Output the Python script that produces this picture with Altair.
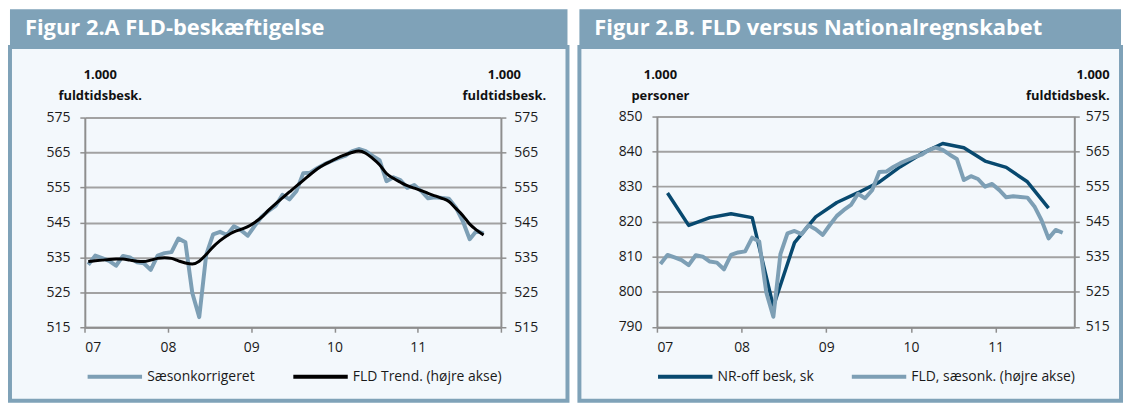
import json
import altair as alt
import pandas as pd

# ---------------- data ----------------
YEAR_LABELS = ["07", "08", "09", "10", "11"]
MONTHS = pd.period_range("2007-01", "2011-10", freq="M").astype(str).tolist()

FLD_SA = [
    532.9, 535.5, 534.8, 534.0, 532.6, 535.4, 535.0, 533.6, 533.3, 531.4, 535.5, 536.2,
    536.5, 540.4, 539.3, 524.8, 517.9, 535.7, 541.6, 542.3, 541.4, 543.9, 542.8, 541.2,
    544.0, 546.6, 548.3, 549.7, 552.9, 551.6, 553.9, 559.1, 559.2, 560.5, 561.6, 562.5,
    563.3, 564.0, 565.3, 566.0, 565.4, 564.0, 562.8, 556.8, 557.9, 557.1, 554.9, 555.7,
    554.0, 551.9, 552.2, 552.0, 551.8, 549.3, 545.4, 540.2, 542.6, 541.8,
]
FLD_TREND = [
    533.8, 534.0, 534.2, 534.4, 534.5, 534.5, 534.2, 533.9, 533.8, 534.2, 534.7, 534.9,
    534.7, 534.0, 533.4, 533.1, 533.9, 535.8, 538.0, 539.8, 541.2, 542.3, 543.0, 543.8,
    545.0, 546.5, 548.5, 550.3, 552.0, 553.7, 555.4, 557.0, 558.7, 560.3, 561.5, 562.5,
    563.5, 564.3, 565.0, 565.4, 564.8, 563.3, 561.5, 559.0, 557.6, 556.5, 555.5, 554.8,
    554.1, 553.3, 552.6, 551.9, 551.0, 549.0, 547.0, 544.5, 542.8, 541.4,
]
QUARTERS = [
    "2007K1", "2007K2", "2007K3", "2007K4", "2008K1", "2008K2", "2008K3", "2008K4",
    "2009K1", "2009K2", "2009K3", "2009K4", "2010K1", "2010K2", "2010K3", "2010K4",
    "2011K1", "2011K2", "2011K3",
]
NR_OFF = [
    828.1, 818.9, 821.1, 822.2, 821.1, 795.8, 814.0, 821.3, 825.4, 828.2,
    831.2, 835.6, 839.3, 842.2, 841.0, 837.2, 835.4, 831.3, 823.8,
]

TITLE_A = "Figur 2.A FLD-beskæftigelse"
TITLE_B = "Figur 2.B. FLD versus Nationalregnskabet"
SER_A = ["Sæsonkorrigeret", "FLD Trend. (højre akse)"]
SER_B = ["NR-off besk, sk", "FLD, sæsonk. (højre akse)"]
AX_FULD = ["1.000", "fuldtidsbesk."]
AX_PERS = ["1.000", "personer"]

# ---------------- styles ----------------
FONT = "Open Sans"
BAR = "#7fa2b8"
BG = "#f3f8fc"
LIGHT = "#7d9fb5"
DARK = "#08496f"
BLACK = "#000000"
GRID = "#a2a2a2"
AXIS = "#8e8e8e"
TXT = "#1a1a1a"

PW_A, PW_B, PH, TH = 561, 545, 356, 36


def month_pos(m):
    p = pd.Period(m, freq="M")
    return (p.year - 2007) * 12 + p.month - 1 + 0.5


def quarter_pos(q):
    return (int(q[:4]) - 2007) * 12 + 3 * (int(q[-1]) - 1) + 1.5


mx = [month_pos(m) for m in MONTHS]
qx = [quarter_pos(q) for q in QUARTERS]

df_sa_a = pd.DataFrame({"x": mx, "v": FLD_SA, "s": SER_A[0]})
df_tr_a = pd.DataFrame({"x": mx, "v": FLD_TREND, "s": SER_A[1]})
df_nr_b = pd.DataFrame({"x": qx, "v": NR_OFF, "s": SER_B[0]})
df_sa_b = pd.DataFrame({"x": mx, "v": FLD_SA, "s": SER_B[1]})

label_expr = "datum.value < 59 ? {}[floor(datum.value / 12)] : ''".format(json.dumps(YEAR_LABELS))


def x_enc(dom_max, rng, offset):
    return alt.X(
        "x:Q",
        title=None,
        scale=alt.Scale(domain=[0, dom_max], range=rng, nice=False, zero=False),
        axis=alt.Axis(
            values=[0, 12, 24, 36, 48, 60] if dom_max >= 60 else [0, 12, 24, 36, 48],
            labelExpr=label_expr, offset=offset, grid=False,
            domainColor=AXIS, domainWidth=2, tickColor=AXIS, tickWidth=1.5, tickSize=5,
            labelFontSize=14, labelColor=TXT, labelPadding=8, labelFont=FONT,
        ),
    )


def y_enc(dom, rng, orient, offset, title, tx, talign, grid, pad):
    return alt.Y(
        "v:Q",
        scale=alt.Scale(domain=dom, range=rng, nice=False, zero=False),
        axis=alt.Axis(
            orient=orient, offset=offset, values=list(range(dom[0], dom[1] + 1, 10)),
            grid=grid, gridColor=GRID, gridWidth=2,
            domainColor=AXIS, domainWidth=2, tickColor=AXIS, tickWidth=1.5, tickSize=5,
            labelFontSize=14, labelColor=TXT, labelPadding=pad, labelFont=FONT,
            title=title, titleAngle=0, titleX=tx, titleY=22, titleAlign=talign,
            titleBaseline="top", titleFontSize=13, titleFontWeight="bold",
            titleColor="#111111", titleLineHeight=21, titleFont=FONT,
        ),
    )


def color_enc(domain, rng, lx):
    return alt.Color(
        "s:N",
        scale=alt.Scale(domain=domain, range=rng),
        legend=alt.Legend(
            orient="none", legendX=lx, legendY=340, direction="horizontal", title=None,
            symbolType="stroke", symbolSize=3000, symbolStrokeWidth=4,
            labelFontSize=14, labelColor=TXT, labelFont=FONT, labelOffset=3,
            columnPadding=30, labelLimit=400,
        ),
    )


def title_bar(text, width):
    return (
        alt.Chart(pd.DataFrame({"t": [text]}))
        .mark_text(align="left", baseline="middle", color="white", fontSize=22,
                   fontWeight="bold", font=FONT)
        .encode(x=alt.value(15), y=alt.value(19), text="t:N")
        .properties(width=width, height=TH,
                    view=alt.ViewBackground(fill=BAR, stroke=BAR, strokeWidth=0))
    )


# ---------------- panel A ----------------
xa = x_enc(60, [75.3, 494], 282 - PH)
ca = color_enc(SER_A, [LIGHT, BLACK], 76)
la = alt.Chart(df_sa_a).mark_line(strokeWidth=4, strokeJoin="round").encode(
    x=xa, y=y_enc([515, 575], [282, 71], "left", -75.3, AX_FULD, 15, "center", True, 10),
    color=ca)
lb = alt.Chart(df_tr_a).mark_line(strokeWidth=3, interpolate="monotone").encode(
    x=xa, y=y_enc([515, 575], [282, 71], "right", 494 - PW_A, AX_FULD, 3, "center", False, 8),
    color=ca)
panel_a = alt.layer(la, lb).resolve_scale(y="independent").properties(
    width=PW_A, height=PH, view=alt.ViewBackground(fill=BG, stroke=BAR, strokeWidth=4))

# ---------------- panel B ----------------
xb = x_enc(59.15, [78, 498], 282 - PH)
cb = color_enc(SER_B, [DARK, LIGHT], 77)
ra = alt.Chart(df_nr_b).mark_line(strokeWidth=3.5, strokeJoin="round").encode(
    x=xb, y=y_enc([790, 850], [281.7, 69.5], "left", -78, AX_PERS, 3, "center", True, 10),
    color=cb)
rb = alt.Chart(df_sa_b).mark_line(strokeWidth=4, strokeJoin="round").encode(
    x=xb, y=y_enc([515, 575], [281.7, 69.5], "right", 498 - PW_B, AX_FULD, 35, "right", False, 6),
    color=cb)
panel_b = alt.layer(ra, rb).resolve_scale(y="independent").properties(
    width=PW_B, height=PH, view=alt.ViewBackground(fill=BG, stroke=BAR, strokeWidth=4))

left = alt.vconcat(title_bar(TITLE_A, PW_A), panel_a, spacing=0)
right = alt.vconcat(title_bar(TITLE_B, PW_B), panel_b, spacing=0)

chart = (
    alt.hconcat(left, right, spacing=8)
    .resolve_scale(color="independent")
    .resolve_legend(color="independent")
    .properties(padding=0, background="white")
    .configure(font=FONT)
)

chart.save("out.html", embed_options={"renderer": "svg", "actions": False})
